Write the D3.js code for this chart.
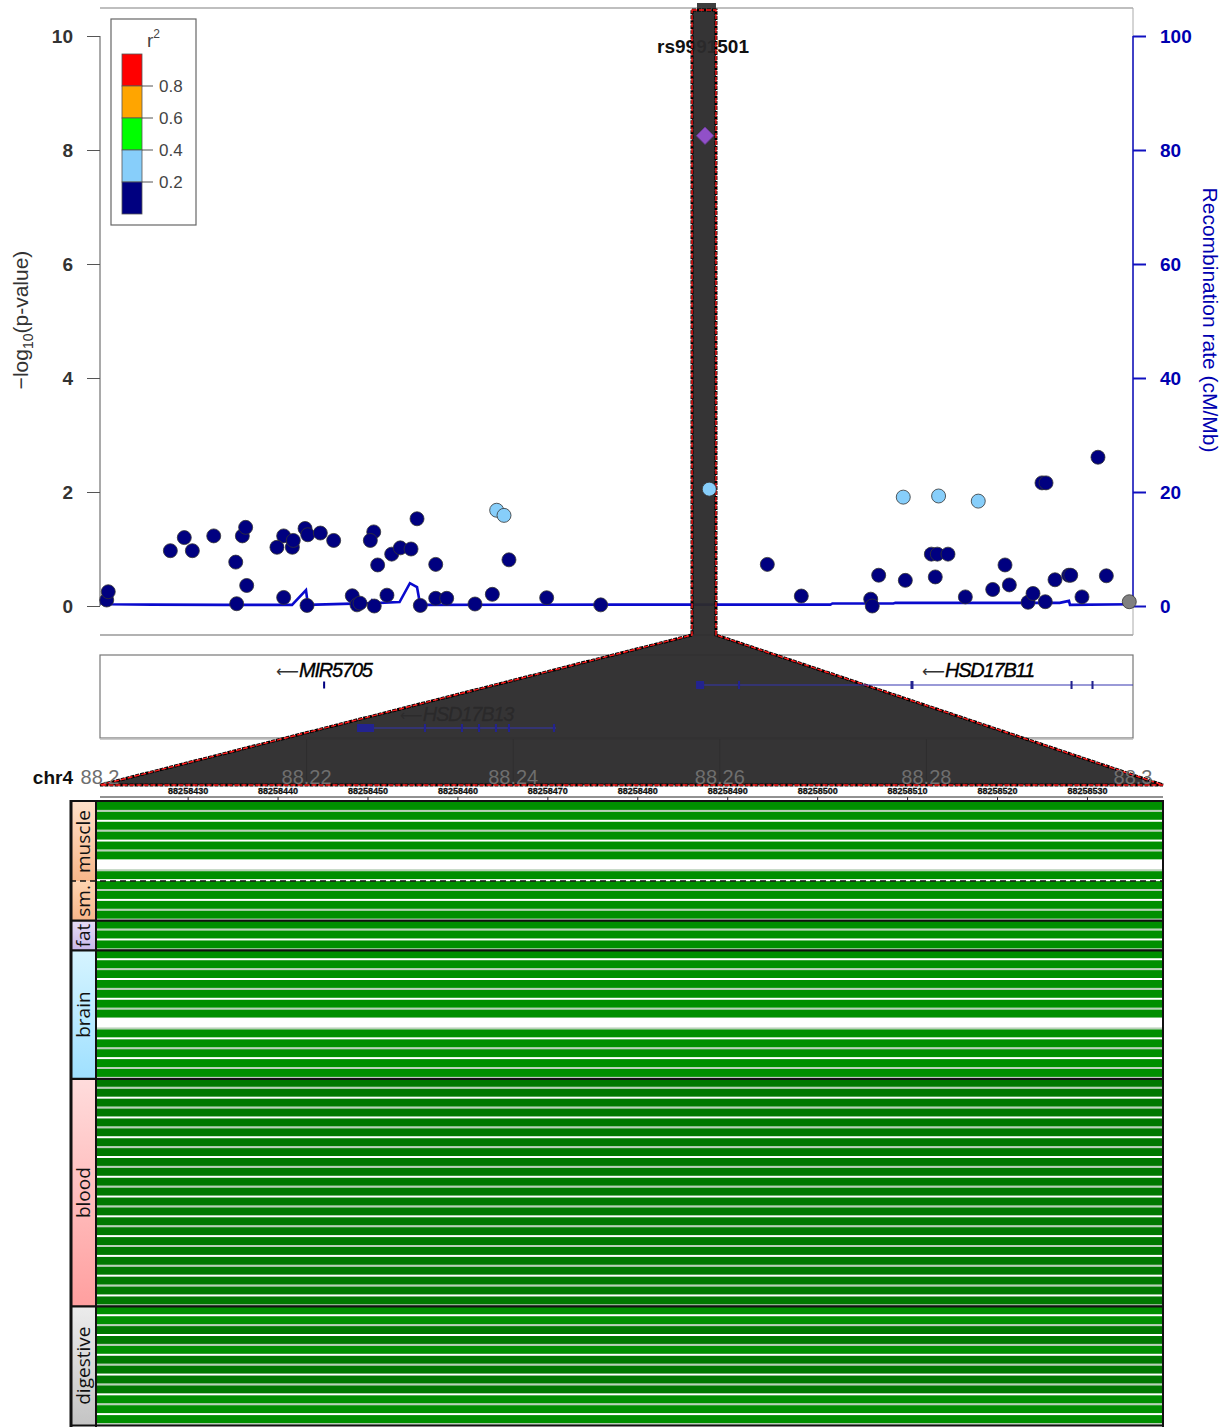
<!DOCTYPE html>
<html><head><meta charset="utf-8">
<script src="https://cdn.jsdelivr.net/npm/d3@7"></script>
<style>body{margin:0;background:#fff}</style>
</head><body>
<script>
// ---------------- DATA ----------------
const snpPos = [88.20065,88.20080,88.20681,88.20816,88.20894,88.21101,88.21314,88.21420,88.21323,88.21378,88.21410,88.21778,88.21713,88.21862,88.21871,88.21778,88.21985,88.22011,88.22133,88.22262,88.22004,88.22442,88.22488,88.22517,88.22650,88.22617,88.22688,88.22655,88.22778,88.22824,88.22907,88.23011,88.23069,88.23101,88.23250,88.23250,88.23356,88.23630,88.23798,88.23840,88.23911,88.23959,88.24324,88.24847,
  88.25898,88.26460,88.26789,88.27461,88.27476,88.27538,88.27776,88.27796,88.28048,88.28106,88.28209,88.28086,88.28118,88.28377,88.28502,88.28642,88.28761,88.28803,88.28984,88.29032,88.29119,88.29158,88.29151,88.29245,88.29378,88.29397,88.29506,88.29661,88.29742,88.29964];
const snpLogP = [0.105,0.25,0.97,1.20,0.97,1.23,0.77,0.36,0.04,1.23,1.38,1.23,1.03,1.03,1.15,0.15,1.36,1.25,1.28,1.15,0.01,0.18,0.02,0.05,1.30,1.15,0.72,0.0,0.19,0.91,1.02,1.0,1.53,0.01,0.73,0.135,0.135,0.035,0.205,1.68,1.59,0.81,0.145,0.02,
  2.05,0.73,0.175,0.12,0.0,0.54,1.91,0.45,0.91,0.91,0.91,0.51,1.93,0.16,1.84,0.29,0.72,0.37,0.065,0.22,2.16,2.16,0.075,0.46,0.54,0.54,0.16,2.61,0.53,0.075];
const snpR2 = [0.05,0.05,0.05,0.05,0.05,0.05,0.05,0.05,0.05,0.05,0.05,0.05,0.05,0.05,0.05,0.05,0.05,0.05,0.05,0.05,0.05,0.05,0.05,0.05,0.05,0.05,0.05,0.05,0.05,0.05,0.05,0.05,0.05,0.05,0.05,0.05,0.05,0.05,0.05,0.3,0.3,0.05,0.05,0.05,
  0.3,0.05,0.05,0.05,0.05,0.05,0.3,0.05,0.05,0.05,0.05,0.05,0.3,0.05,0.3,0.05,0.05,0.05,0.05,0.05,0.05,0.05,0.05,0.05,0.05,0.05,0.05,0.05,0.05,null];
const leadSnp = {name:"rs9991501", pos:88.25857, logp:8.25};

const recombPos  = [88.2000,88.2010,88.2050,88.2120,88.21859,88.21994,88.22013,88.22614,88.22633,88.2266,88.2290,88.2300,88.23069,88.2310,88.2500,88.2707,88.2709,88.2768,88.2770,88.2929,88.2938,88.2939,88.3000];
const recombRate = [0.5,0.3,0.25,0.2,0.2,2.8,0.2,0.5,1.0,0.5,0.7,4.0,3.3,0.2,0.25,0.25,0.45,0.45,0.55,0.55,0.9,0.2,0.3];

const genes = [
  {name:"MIR5705", start:88.22160, end:88.22176, row:0, exons:[[88.22160,88.22176]]},
  {name:"HSD17B13", start:88.22488, end:88.24414, row:1, exons:[[88.22488,88.22653],[88.23136,88.23156],[88.23494,88.23514],[88.23659,88.23679],[88.23823,88.23843],[88.23949,88.23969],[88.24385,88.24405]]},
  {name:"HSD17B11", start:88.25770, end:88.31229, row:0, exons:[[88.25770,88.25848],[88.26176,88.26196],[88.27846,88.27875],[88.29395,88.29415],[88.29598,88.29618]]}
];

const highlightMb = [88.25731, 88.25963];
const bpDomain = [88258420.2, 88258538.4];
const bpTicks = [88258430,88258440,88258450,88258460,88258470,88258480,88258490,88258500,88258510,88258520,88258530];
const xTicks = [88.2,88.22,88.24,88.26,88.28,88.3];
const xTickLabels = ["88.2","88.22","88.24","88.26","88.28","88.3"];
const yTicks = [0,2,4,6,8,10];
const yRTicks = [0,20,40,60,80,100];
const legendBreaks = [0.8,0.6,0.4,0.2];
const legendColors = ["#ff0000","#ffa500","#00ff00","#87cefa","#000080"];

const tissueGroups = ["muscle","sm.","fat","brain","blood","digestive"];
const tissueRowCounts = [8,4,3,13,23,12];
// 0 = no data, 1 = bright green, 2 = dark green
const rowSignal = [
  1,1,1,1,1,1,0,1,
  1,1,1,1,
  1,1,1,
  1,1,1,1,1,1,1,0,1,1,1,1,1,
  2,2,2,2,2,2,2,2,2,2,2,2,2,2,2,2,2,2,2,2,2,2,2,
  1,1,2,2,1,2,2,2,2,1,1,1
];

// ---------------- SCALES ----------------
const W=1226,H=1427;
const x = d3.scaleLinear().domain([88.2,88.3]).range([100,1133]);
const y = d3.scaleLinear().domain([0,10]).range([606,36]);
const yR = d3.scaleLinear().domain([0,100]).range([606,36]);
const xBp = d3.scaleLinear().domain(bpDomain).range([100,1163]);
const totalRows = d3.sum(tissueRowCounts);
const rowY = d3.scaleBand().domain(d3.range(totalRows)).range([802,1425]);
const r2Color = d3.scaleThreshold().domain([0.2,0.4,0.6,0.8]).range(["#000080","#87cefa","#00ff00","#ffa500","#ff0000"]);

const svg = d3.select("body").append("svg").attr("width",W).attr("height",H)
  .style("font-family","'Liberation Sans', Arial, sans-serif");
const defs = svg.append("defs");

// ---------------- TOP PLOT FRAME ----------------
svg.append("line").attr("x1",100).attr("x2",1133).attr("y1",8).attr("y2",8).attr("stroke","#aaa").attr("stroke-width",1.5);
svg.append("line").attr("x1",100).attr("x2",1133).attr("y1",635).attr("y2",635).attr("stroke","#999").attr("stroke-width",1.5);
svg.append("line").attr("x1",1133).attr("x2",1133).attr("y1",8).attr("y2",635).attr("stroke","#aaa").attr("stroke-width",1);

// left axis
const gL = svg.append("g").attr("transform","translate(100,0)")
  .call(d3.axisLeft(y).tickValues(yTicks).tickSize(13).tickPadding(14).tickFormat(d3.format("d")));
gL.select(".domain").attr("stroke","#555").attr("d","M0,36V606");
gL.selectAll(".tick line").attr("stroke","#555");
gL.selectAll("text").attr("font-size",19).attr("font-weight","bold").attr("fill","#333");
// right axis
const gR = svg.append("g").attr("transform","translate(1133,0)")
  .call(d3.axisRight(yR).tickValues(yRTicks).tickSize(13).tickPadding(14).tickFormat(d3.format("d")));
gR.select(".domain").attr("stroke","#1010c0").attr("stroke-width",1.5).attr("d","M0,36V606");
gR.selectAll(".tick line").attr("stroke","#1010c0").attr("stroke-width",2);
gR.selectAll("text").attr("font-size",19).attr("font-weight","bold").attr("fill","#0000b0");

// axis titles
const tL = svg.append("text").attr("transform","translate(28,320) rotate(-90)").attr("text-anchor","middle")
  .attr("font-size",21).attr("fill","#333");
tL.append("tspan").text("\u2212log");
tL.append("tspan").attr("font-size",14).attr("dy",5).text("10");
tL.append("tspan").attr("dy",-5).text("(p-value)");
svg.append("text").attr("transform","translate(1203,320) rotate(90)").attr("text-anchor","middle")
  .attr("font-size",21).attr("fill","#0000b0").text("Recombination rate (cM/Mb)");

// lead snp label
svg.append("text").attr("x",x(leadSnp.pos)-2).attr("y",53).attr("text-anchor","middle")
  .attr("font-size",19).attr("font-weight","bold").attr("fill","#111").text(leadSnp.name);

// recombination line
const recomb = recombPos.map((p,i)=>[p,recombRate[i]]);
svg.append("path").datum(recomb).attr("fill","none").attr("stroke","#0a0acd").attr("stroke-width",2.6)
  .attr("d",d3.line().x(d=>x(d[0])).y(d=>yR(d[1])));

// ---------------- GENE TRACK ----------------
svg.append("rect").attr("x",100).attr("y",655).attr("width",1033).attr("height",83)
  .attr("fill","none").attr("stroke","#777").attr("stroke-width",1.2);
svg.append("line").attr("x1",100).attr("x2",1133).attr("y1",739).attr("y2",739).attr("stroke","#bbb").attr("stroke-width",1.5);
const geneRowY = [685,728];
const geneLabelY = [677,721];
genes.forEach(g=>{
  const cx = (x(g.start)+x(g.end))/2;
  const t = svg.append("text").attr("x",cx).attr("y",geneLabelY[g.row]).attr("text-anchor","middle")
    .attr("font-size",20).attr("font-style","italic").attr("letter-spacing","-1.2").attr("fill","#000")
    .attr("stroke","#000").attr("stroke-width",0.35);
  t.append("tspan").attr("font-style","normal").attr("font-family","'DejaVu Sans'").attr("font-size",16).attr("letter-spacing","0").attr("fill","#333").attr("stroke","none").text("\u27f5");
  t.append("tspan").text(g.name);
});

// tick lines below gene track
xTicks.slice(1,5).forEach(v=>{
  svg.append("line").attr("x1",x(v)).attr("x2",x(v)).attr("y1",739).attr("y2",786).attr("stroke","#666").attr("stroke-width",1.2);
});

// ---------------- HIGHLIGHT POLYGON ----------------
const hx0 = x(highlightMb[0]), hx1 = x(highlightMb[1]);
const polyPts = [[hx0,10],[hx1,10],[hx1,635],[xBp.range()[1],785],[xBp.range()[0],785],[hx0,635]];
svg.append("rect").attr("x",hx0+5).attr("y",3).attr("width",hx1-hx0-5).attr("height",8).attr("fill","#3d3d3d");
svg.append("polygon").attr("points",polyPts.map(p=>p.join(",")).join(" "))
  .attr("fill","#2c2b2c").attr("fill-opacity",0.955).attr("stroke","#000").attr("stroke-width",3).attr("stroke-dasharray","4,1");
svg.append("polygon").attr("points",polyPts.map(p=>p.join(",")).join(" "))
  .attr("fill","none").attr("stroke","#ff1a1a").attr("stroke-width",1.4).attr("stroke-dasharray","5,2");

// gene structures (drawn above)
const clipG = defs.append("clipPath").attr("id","gclip");
clipG.append("rect").attr("x",100).attr("y",655).attr("width",1033).attr("height",83);
const gg = svg.append("g").attr("clip-path","url(#gclip)");
genes.forEach(g=>{
  const yy = geneRowY[g.row];
  gg.append("line").attr("x1",x(g.start)).attr("x2",x(g.end)).attr("y1",yy).attr("y2",yy)
    .attr("stroke","#3535b0").attr("stroke-width",1.2);
  g.exons.forEach(e=>{
    gg.append("rect").attr("x",x(e[0])).attr("y",yy-(g.name==="MIR5705"?3.5:4)).attr("width",Math.max(2,x(e[1])-x(e[0])))
      .attr("height",g.name==="MIR5705"?7:8).attr("fill",g.name==="MIR5705"?"#000080":"#23238f");
  });
});

// ---------------- POINTS ----------------
const pts = svg.append("g");
snpPos.forEach((p,i)=>{
  pts.append("circle").attr("cx",x(p)).attr("cy",y(snpLogP[i])).attr("r",7)
    .attr("fill", snpR2[i]==null ? "#808080" : r2Color(snpR2[i]))
    .attr("stroke","#333").attr("stroke-width",0.8);
});
pts.append("path").attr("d",d3.symbol().type(d3.symbolSquare).size(150)())
  .attr("transform",`translate(${x(leadSnp.pos)},${y(leadSnp.logp)}) rotate(45)`)
  .attr("fill","#9150c8").attr("stroke","#6a3a9a").attr("stroke-width",0.8);

// ---------------- X AXIS LABELS ----------------
svg.append("text").attr("x",73).attr("y",784).attr("text-anchor","end").attr("font-size",19)
  .attr("font-weight","bold").attr("fill","#111").text("chr4");
xTicks.forEach((v,i)=>{
  svg.append("text").attr("x",x(v)).attr("y",784).attr("text-anchor","middle").attr("font-size",20)
    .attr("fill","#6e6e6e").text(xTickLabels[i]);
});
// bp axis
svg.append("line").attr("x1",100).attr("x2",1163).attr("y1",797).attr("y2",797).attr("stroke","#222").attr("stroke-width",1);
bpTicks.forEach(v=>{
  svg.append("line").attr("x1",xBp(v)).attr("x2",xBp(v)).attr("y1",797).attr("y2",801).attr("stroke","#222");
  svg.append("text").attr("x",xBp(v)).attr("y",794).attr("text-anchor","middle").attr("font-size",9)
    .attr("font-weight","bold").attr("fill","#111").attr("stroke","#111").attr("stroke-width",0.3).text(d3.format("d")(v));
});

// ---------------- LEGEND ----------------
svg.append("rect").attr("x",111).attr("y",19).attr("width",85).attr("height",206).attr("fill","#fff").attr("stroke","#666").attr("stroke-width",1.2);
const lt = svg.append("text").attr("x",147).attr("y",47).attr("font-size",19).attr("fill","#444");
lt.append("tspan").text("r");
lt.append("tspan").attr("font-size",12).attr("dy",-9).text("2");
const lgY = d3.scaleLinear().domain([1,0]).range([54,214]);
legendColors.forEach((c,i)=>{
  svg.append("rect").attr("x",122).attr("y",lgY(1-i*0.2)).attr("width",20).attr("height",lgY(0.8-i*0.2)-lgY(1-i*0.2))
    .attr("fill",c).attr("stroke","#555").attr("stroke-width",0.8);
});
legendBreaks.forEach(b=>{
  svg.append("line").attr("x1",142).attr("x2",153).attr("y1",lgY(b)).attr("y2",lgY(b)).attr("stroke","#555");
  svg.append("text").attr("x",159).attr("y",lgY(b)+6).attr("font-size",17).attr("fill","#444").text(b.toFixed(1));
});

// ---------------- TISSUE TRACKS ----------------
const bgColors = [["#ffe0c8","#f7b68a"],["#ffd4b0","#f7b68a"],["#e6dcf6","#c8b8ea"],["#d6f4ff","#9fe0ff"],["#ffdcdc","#ff9f9f"],["#ececec","#c4c4c4"]];
let start=0;
const groupBounds = tissueRowCounts.map(n=>{const b=[start,start+n]; start+=n; return b;});
const tg = svg.append("g");
tg.append("rect").attr("x",96).attr("y",802).attr("width",1067).attr("height",623).attr("fill","#fff");
rowSignal.forEach((s,i)=>{
  const y0=rowY(i), h=rowY.bandwidth();
  tg.append("rect").attr("x",96).attr("y",y0+h-2).attr("width",1067).attr("height",2).attr("fill", i%2? "#ffffff":"#b9d0b9");
  if(s>0) tg.append("rect").attr("x",96).attr("y",y0).attr("width",1067).attr("height",h-2)
    .attr("fill", s===1 ? "#008f00" : "#007800");
});
// label column
groupBounds.forEach((b,gi)=>{
  const id="lg"+gi;
  const gr = defs.append("linearGradient").attr("id",id).attr("x1",0).attr("x2",0).attr("y1",0).attr("y2",1);
  gr.append("stop").attr("offset","0%").attr("stop-color",bgColors[gi][0]);
  gr.append("stop").attr("offset","100%").attr("stop-color",bgColors[gi][1]);
  const y0 = rowY(b[0]), y1 = b[1]>=totalRows ? 1425 : rowY(b[1]);
  tg.append("rect").attr("x",72).attr("y",y0).attr("width",24).attr("height",y1-y0).attr("fill",`url(#${id})`);
  tg.append("text").attr("transform",`translate(90,${(y0+y1)/2}) rotate(-90)`).attr("text-anchor","middle")
    .attr("font-family","'Open Sans', sans-serif").attr("font-size",19).attr("fill","#111").text(tissueGroups[gi]);
  if(gi>0){
    tg.append("line").attr("x1",70).attr("x2",1164).attr("y1",y0).attr("y2",y0).attr("stroke","#111")
      .attr("stroke-width",gi===1?1.5:2.2).attr("stroke-dasharray",gi===1?"6,4":null);
  }
});
tg.append("line").attr("x1",71).attr("x2",71).attr("y1",800).attr("y2",1427).attr("stroke","#111").attr("stroke-width",3);
tg.append("line").attr("x1",96).attr("x2",96).attr("y1",800).attr("y2",1427).attr("stroke","#111").attr("stroke-width",2);
tg.append("line").attr("x1",1163).attr("x2",1163).attr("y1",802).attr("y2",1427).attr("stroke","#111").attr("stroke-width",2);
tg.append("line").attr("x1",70).attr("x2",1164).attr("y1",801).attr("y2",801).attr("stroke","#111").attr("stroke-width",2);
tg.append("line").attr("x1",70).attr("x2",1164).attr("y1",1425.5).attr("y2",1425.5).attr("stroke","#111").attr("stroke-width",2);
</script>
</body></html>
